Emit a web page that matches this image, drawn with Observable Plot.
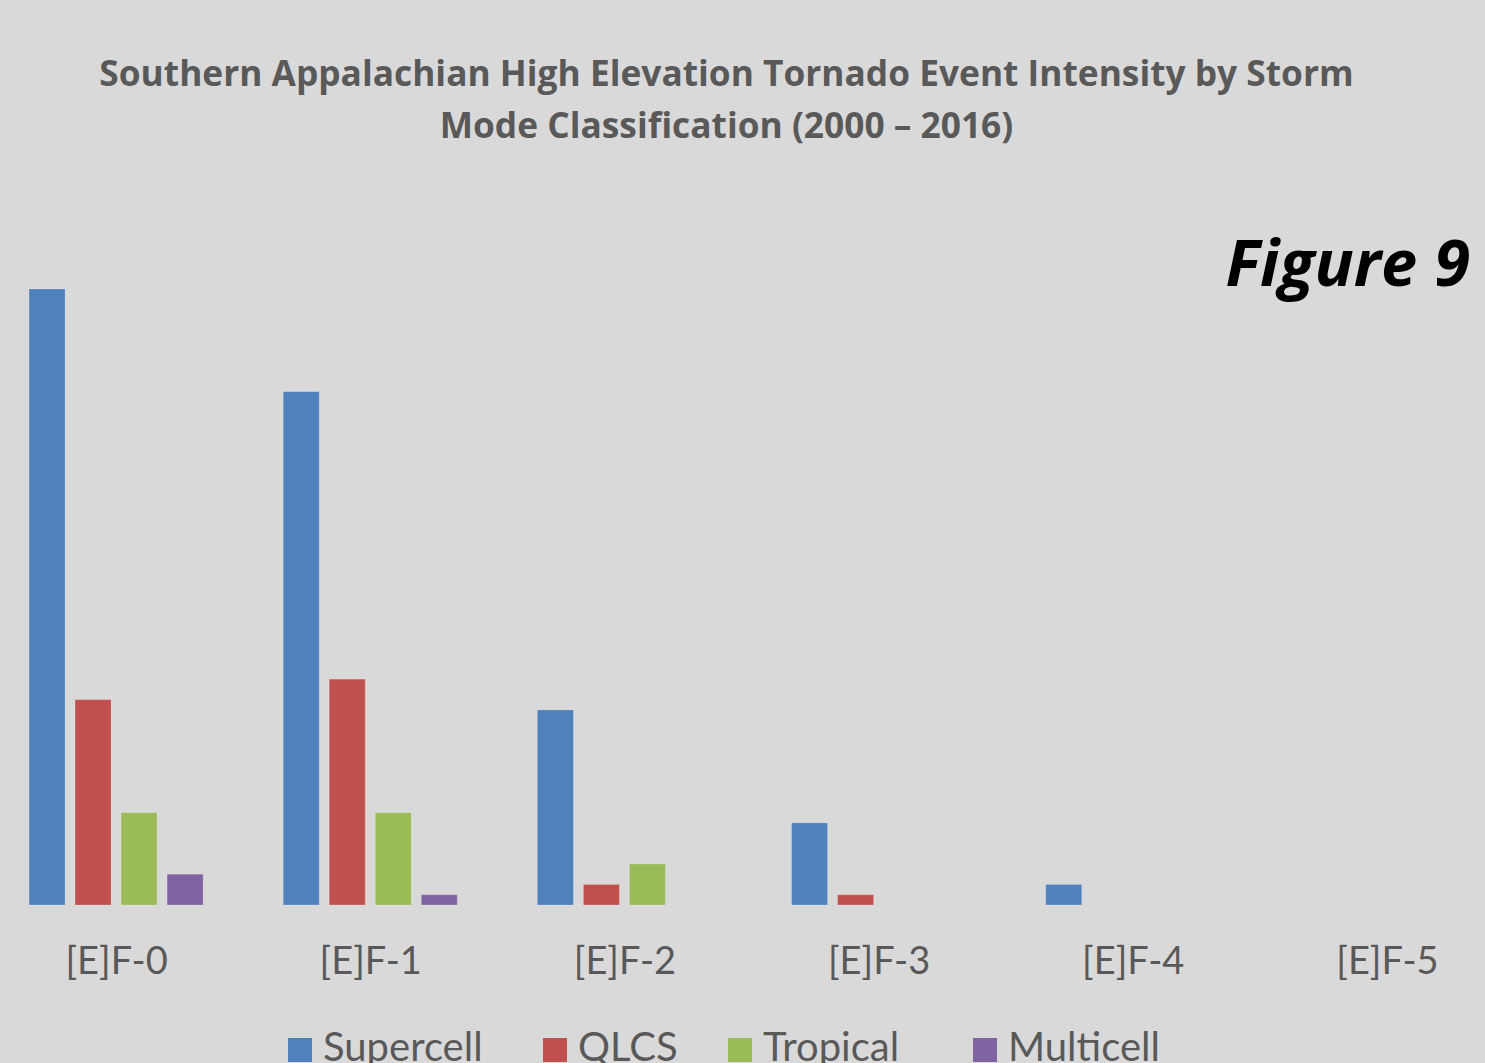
<!DOCTYPE html>
<html>
<head>
<meta charset="utf-8">
<script src="https://cdn.jsdelivr.net/npm/d3@7"></script>
<script src="https://cdn.jsdelivr.net/npm/@observablehq/plot@0.6"></script>
<style>
  html, body { margin: 0; padding: 0; background: #d9d9d9; }
  body { width: 1485px; height: 1063px; overflow: hidden; position: relative; }
  #title { position: absolute; left: 0; top: 46px; width: 1453px; text-align: center;
    font-family: "Open Sans", sans-serif; font-weight: bold; font-size: 35.3px; line-height: 52px; color: #595959; }
  #fig { position: absolute; right: 15px; top: 217px; font-family: "Open Sans", sans-serif;
    font-weight: bold; font-style: italic; font-size: 65px; color: #000; }
  #chart { position: absolute; left: 0; top: 0; }
  #legend { position: absolute; left: 0; top: 1022px; width: 1485px; font-family: Lato, sans-serif;
    font-size: 40px; color: #595959; }
  .item { position: absolute; display: flex; align-items: center; white-space: nowrap; }
  .sw { width: 24px; height: 24px; margin-right: 11px; margin-top: 8px; }
</style>
</head>
<body>
<div id="title">Southern Appalachian High Elevation Tornado Event Intensity by Storm<br>Mode Classification (2000 – 2016)</div>
<div id="fig">Figure 9</div>
<div id="chart"></div>
<div id="legend"></div>
<script>
const categories = ["[E]F-0", "[E]F-1", "[E]F-2", "[E]F-3", "[E]F-4", "[E]F-5"];
const series = ["Supercell", "QLCS", "Tropical", "Multicell"];
const supercell = [60, 50, 19, 8, 2, 0];
const qlcs = [20, 22, 2, 1, 0, 0];
const tropical = [9, 9, 4, 0, 0, 0];
const multicell = [3, 1, 0, 0, 0, 0];
const colors = ["#4f81bd", "#c0504d", "#9bbb59", "#8064a2"];
const legendX = [288, 543, 728, 973];

const valuesBySeries = [supercell, qlcs, tropical, multicell];
const data = [];
categories.forEach((c, i) => {
  series.forEach((s, j) => {
    data.push({category: c, series: s, value: valuesBySeries[j][i]});
  });
});

const chart = Plot.plot({
  width: 1485,
  height: 1010,
  marginTop: 289,
  marginBottom: 105,
  marginLeft: -11,
  marginRight: -29,
  style: {background: "transparent", fontFamily: "Lato, sans-serif", fontSize: "38px", color: "#595959", overflow: "visible"},
  fx: {domain: categories, padding: 0, round: false, axis: "bottom", tickSize: 0, tickPadding: 42, label: null},
  x: {domain: series, axis: null, round: false, paddingInner: 0.217, paddingOuter: 0.87},
  y: {domain: [0, 60], axis: null},
  color: {domain: series, range: colors},
  marks: [
    Plot.barY(data, {fx: "category", x: "series", y: "value", fill: "series", stroke: "white", strokeOpacity: 0.2, strokeWidth: 1})
  ]
});
document.getElementById("chart").appendChild(chart);

const legend = d3.select("#legend");
series.forEach((s, i) => {
  const it = legend.append("div").attr("class", "item").style("left", legendX[i] + "px");
  it.append("div").attr("class", "sw").style("background", colors[i]);
  it.append("span").text(s);
});
</script>
</body>
</html>
